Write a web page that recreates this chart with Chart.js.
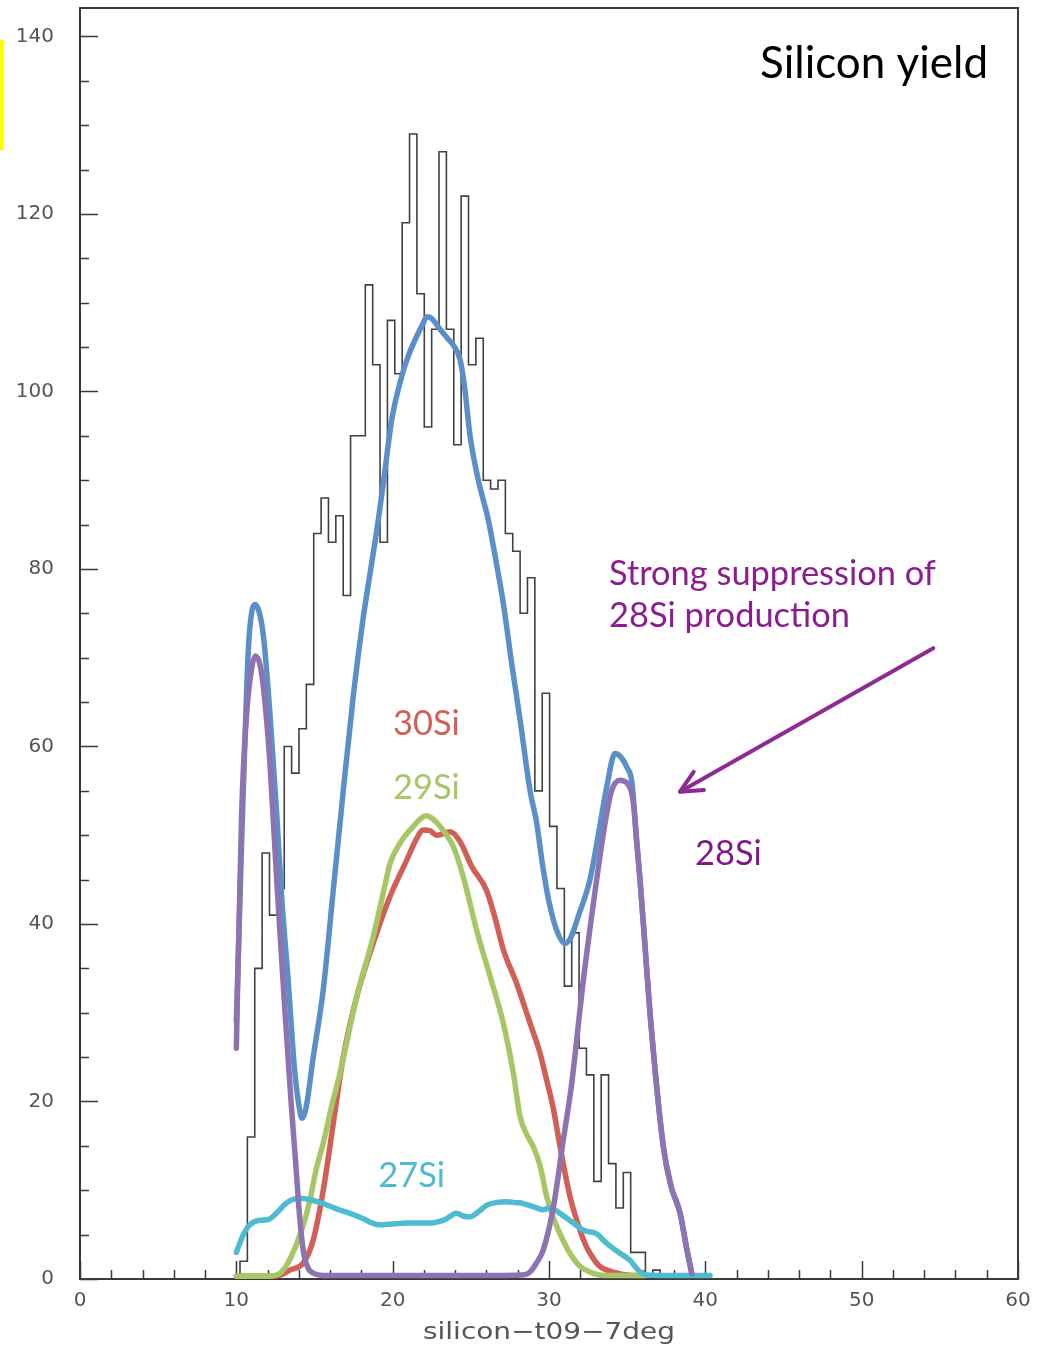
<!DOCTYPE html>
<html>
<head>
<meta charset="utf-8">
<script src="https://cdn.jsdelivr.net/npm/chart.js@4.4.1/dist/chart.umd.min.js"></script>
<style>
html,body{margin:0;padding:0;background:#ffffff;}
#wrap{width:1038px;height:1347px;position:relative;}
</style>
</head>
<body>
<div id="wrap"><canvas id="c" width="1038" height="1347"></canvas></div>
<script>
// ---------- data ----------
const xTicks = [0, 10, 20, 30, 40, 50, 60];
const yTicks = [0, 20, 40, 60, 80, 100, 120, 140];
const xAxisTitle = 'silicon\u2212t09\u22127deg';

// histogram (low edge of first bin, bin width, counts)
const histStart = 10.235;
const histWidth = 0.4715;
const histCounts = [2, 16, 35, 48, 41, 44, 60, 57, 62, 67, 84, 88, 83, 86, 77, 95, 95, 112, 103, 83,
  108, 102, 119, 129, 111, 96, 107, 127, 107, 94, 122, 103, 106, 90, 89, 90, 84, 82, 75, 79,
  55, 66, 51, 44, 33, 39, 26, 23, 11, 23, 13, 8, 12, 3, 3, 0, 1];

// total (blue)
const blueX = [10.0,10.3,10.5,10.77,11.0,11.2,11.45,11.73,12.15,12.58,12.9,13.3,13.73,14.0,14.2,14.45,14.92,15.56,16.2,16.84,17.5,18.1,18.6,19.08,19.5,19.94,20.58,21.0,21.43,21.9,22.2,22.5,23.03,23.5,23.88,24.31,24.6,24.95,25.48,26.12,26.6,27.08,27.6,28.15,28.79,29.2,29.6,30.0,30.49,31.02,31.4,31.9,32.62,33.2,33.7,34.22,34.6,35.0,35.3,35.6,35.82,36.1,36.46,37.31,37.8,38.38,38.8,39.13];
const blueY = [29,47,58,71,75.3,76,75.2,72.5,63.7,52.5,43,34,23.5,19.6,18.1,19.2,25,32.6,43.8,55,66,74.3,80,85.5,91,96.8,101.7,104,105.8,107.5,108.4,108.2,107,106,105.2,103.6,100.5,95,90,85.5,81,76.1,69.5,63,55,51.5,46.5,42.5,39.3,37.8,38.5,41,45,50.5,55.5,59.2,58.8,57.6,56,49.5,45,38.5,30,15,10.5,7.5,3.5,0.7];

// 28Si (purple)
const purpleX = [10.0,10.34,10.66,11.0,11.22,11.5,11.73,12.15,12.58,13.09,13.5,13.8,14.05,14.3,14.6,15.0,15.5,17,19,21,23,25,27,28.5,28.79,29.2,29.64,30.28,30.92,31.45,32.2,33.05,33.6,34.0,34.54,34.97,35.4,35.6,35.82,36.1,36.46,37.31,37.8,38.38,38.8,39.13];
const purpleY = [26,52.5,63.7,69,70.2,69.3,66.7,58.1,45,30.7,20,13,7,3,1.2,0.6,0.4,0.4,0.4,0.4,0.4,0.4,0.4,0.5,0.8,1.8,3.3,8.1,15.7,22,33.7,45,51.5,55,56.2,55.9,53.6,49.5,45,38.5,30,14.9,10.5,7.4,3.5,0.6];

// 30Si (red)
const redX = [10.0,11.0,12.0,12.9,13.43,14.28,14.92,15.56,16.2,16.84,17.7,18.98,19.83,20.9,21.5,21.96,22.4,22.81,23.3,23.67,24.31,25.05,26.0,26.5,27.08,27.93,28.79,29.42,29.85,30.3,30.7,31.34,31.8,32.3,32.62,33.2,33.7,34.5,35.3,36.0];
const redY = [0.3,0.3,0.3,0.5,1.0,1.8,4.4,10.0,17.5,25.0,31.8,39.0,43.1,47.2,49.5,50.6,50.5,50.0,50.2,50.4,49.3,46.5,43.8,41,37.1,33.3,28.8,25.5,22.4,19,15,9.3,6.5,4,2.9,1.5,1.0,0.6,0.4,0.4];

// 29Si (green)
const greenX = [10.0,11.0,12.0,12.5,12.9,13.45,14.18,14.71,15.1,15.56,16.1,16.63,17.7,18.76,19.4,19.83,20.47,21.32,22.13,22.6,23.03,23.88,24.52,25.37,26.23,27.08,27.72,28.15,28.6,29.0,29.42,29.85,30.3,30.7,31.34,32.0,32.6,33.5,36.2];
const greenY = [0.3,0.3,0.3,0.4,0.8,2.3,5.5,8.9,12.3,15.3,19.5,23.2,31.8,38.6,43.5,46.8,49.1,51.0,52.2,51.8,51.0,48.7,45.3,39.3,34.1,28.8,23.2,18.3,16.2,14.9,12.8,9.3,6.8,5.1,2.9,1.4,0.8,0.4,0.4];

// 27Si (cyan)
const cyanX = [10.0,10.4,10.75,11.1,11.39,12.03,12.67,13.1,13.52,14.1,14.8,15.56,16.4,17.27,18.12,18.7,19.19,20.0,20.9,21.7,22.39,23.0,23.45,24.1,24.5,24.95,25.5,26.0,26.6,27.29,27.9,28.36,29.21,29.6,30.06,30.7,31.56,32.2,33.05,33.7,34.54,35.18,35.82,36.25,37.5,39.0,40.3];
const cyanY = [3.0,4.8,5.9,6.4,6.6,6.7,7.6,8.4,8.9,9.1,8.9,8.5,7.9,7.4,6.8,6.3,6.1,6.2,6.3,6.3,6.3,6.5,6.8,7.4,7.1,7.0,7.6,8.3,8.6,8.7,8.6,8.5,8.0,7.8,8.0,7.4,6.3,5.5,5.1,4.0,2.9,2.1,0.8,0.45,0.4,0.4,0.4];

// ---------- build chart data ----------
function pairs(xs, ys) {
  const n = Math.min(xs.length, ys.length);
  const out = [];
  for (let i = 0; i < n; i++) out.push({x: xs[i], y: ys[i]});
  return out;
}
function histOutline(start, width, counts) {
  const pts = [{x: start, y: 0}];
  counts.forEach((c, i) => {
    pts.push({x: start + i * width, y: c});
    pts.push({x: start + (i + 1) * width, y: c});
  });
  pts.push({x: start + counts.length * width, y: 0});
  return pts;
}

const COLORS = {
  blue: '#5B8FC9', purple: '#8D73B2', red: '#D15F56', green: '#A7C665', cyan: '#4DBBD0',
  hist: '#404040', axis: '#3a3a3a', tickLabel: '#555555', note: '#8B1D91', arrow: '#8E2A94'
};

function curve(label, xs, ys, color, order) {
  return {
    label, data: pairs(xs, ys), borderColor: color, backgroundColor: color,
    borderWidth: 5.5, pointRadius: 0, fill: false, order,
    cubicInterpolationMode: 'monotone', borderCapStyle: 'round', borderJoinStyle: 'round'
  };
}

const datasets = [
  {label: 'silicon-t09-7deg', data: histOutline(histStart, histWidth, histCounts),
   borderColor: COLORS.hist, borderWidth: 1.6, pointRadius: 0, tension: 0, fill: false, order: 10},
  curve('total', blueX, blueY, COLORS.blue, 6),
  curve('30Si', redX, redY, COLORS.red, 5),
  curve('29Si', greenX, greenY, COLORS.green, 4),
  curve('27Si', cyanX, cyanY, COLORS.cyan, 3),
  curve('28Si', purpleX, purpleY, COLORS.purple, 2)
];

// annotation anchors in data coordinates (left edge / baseline)
const notes = [
  {text: 'Silicon yield', x: 43.50, y: 135.3, color: '#000000', group: 'title'},
  {text: 'Strong suppression of', x: 33.84, y: 78.2, color: COLORS.note, group: 'label'},
  {text: '28Si production', x: 33.84, y: 73.45, color: COLORS.note, group: 'label'},
  {text: '30Si', x: 20.02, y: 61.3, color: COLORS.red, group: 'label'},
  {text: '29Si', x: 20.02, y: 54.1, color: '#A6C766', group: 'label'},
  {text: '27Si', x: 19.08, y: 10.4, color: COLORS.cyan, group: 'label'},
  {text: '28Si', x: 39.34, y: 46.6, color: '#7F1A86', group: 'label'}
];
const arrowTail = {x: 54.58, y: 71.07};
const arrowTip = {x: 38.38, y: 54.91};

// ---------- plugin: frame, ticks, texts ----------
const decor = {
  id: 'decor',
  beforeDatasetsDraw(chart) {
    const {ctx, chartArea: a, scales: {x, y}} = chart;
    ctx.save();
    ctx.strokeStyle = COLORS.axis;
    ctx.lineWidth = 1.5;
    for (let v = 0; v <= 143; v += 5) {
      const py = Math.round(y.getPixelForValue(v)) + 0.5;
      const len = (v % 20 === 0) ? 18 : 9;
      ctx.beginPath(); ctx.moveTo(a.left, py); ctx.lineTo(a.left + len, py); ctx.stroke();
    }
    for (let v = 0; v <= 60; v += 2) {
      const px = Math.round(x.getPixelForValue(v)) + 0.5;
      const len = (v % 10 === 0) ? 18 : 9;
      ctx.beginPath(); ctx.moveTo(px, a.bottom); ctx.lineTo(px, a.bottom - len); ctx.stroke();
    }
    ctx.lineWidth = 2;
    ctx.strokeRect(a.left, a.top, a.right - a.left, a.bottom - a.top);
    ctx.restore();
  },
  afterDraw(chart) {
    const {ctx, chartArea: a, scales: {x, y}} = chart;
    ctx.save();
    ctx.fillStyle = '#FFFF00';
    ctx.fillRect(0, 40, 4, 110);

    // x axis title (horizontally stretched like the original rendering)
    ctx.save();
    ctx.font = '23px "DejaVu Sans"';
    ctx.fillStyle = COLORS.tickLabel;
    ctx.textBaseline = 'alphabetic';
    ctx.textAlign = 'center';
    const targetW = 252;
    const w0 = ctx.measureText(xAxisTitle).width;
    const sx = targetW / w0;
    const cx = (a.left + a.right) / 2;
    ctx.translate(cx, 1339);
    ctx.scale(sx, 1);
    ctx.fillText(xAxisTitle, 0, 0);
    ctx.restore();

    function fitSize(text, family, target) {
      ctx.font = '100px ' + family;
      return 100 * target / ctx.measureText(text).width;
    }
    const fam = 'Lato, "Open Sans", sans-serif';
    const sizes = {
      title: fitSize('Silicon yield', fam, 228),
      label: fitSize('Strong suppression of', fam, 327)
    };
    notes.forEach(n => {
      ctx.font = sizes[n.group].toFixed(2) + 'px ' + fam;
      ctx.fillStyle = n.color;
      ctx.textAlign = 'left';
      ctx.textBaseline = 'alphabetic';
      ctx.fillText(n.text, x.getPixelForValue(n.x), y.getPixelForValue(n.y));
    });

    // arrow
    const tx = x.getPixelForValue(arrowTail.x), ty = y.getPixelForValue(arrowTail.y);
    const hx = x.getPixelForValue(arrowTip.x), hy = y.getPixelForValue(arrowTip.y);
    ctx.strokeStyle = COLORS.arrow;
    ctx.lineWidth = 4;
    ctx.lineCap = 'round';
    ctx.lineJoin = 'round';
    ctx.beginPath(); ctx.moveTo(tx, ty); ctx.lineTo(hx, hy); ctx.stroke();
    const ang = Math.atan2(ty - hy, tx - hx);
    const L = 24, spread = 0.45;
    ctx.beginPath();
    ctx.moveTo(hx + L * Math.cos(ang + spread), hy + L * Math.sin(ang + spread));
    ctx.lineTo(hx, hy);
    ctx.lineTo(hx + L * Math.cos(ang - spread), hy + L * Math.sin(ang - spread));
    ctx.stroke();
    ctx.restore();
  }
};

new Chart(document.getElementById('c').getContext('2d'), {
  type: 'line',
  data: {datasets},
  options: {
    responsive: false,
    animation: false,
    devicePixelRatio: 1,
    layout: {padding: {top: 8, right: 20, left: 0, bottom: 0}},
    plugins: {legend: {display: false}, tooltip: {enabled: false}},
    elements: {point: {radius: 0}},
    scales: {
      x: {
        type: 'linear', min: 0, max: 60,
        grid: {display: false, drawTicks: false}, border: {display: false},
        afterBuildTicks: s => { s.ticks = xTicks.map(v => ({value: v})); },
        afterFit: s => { s.height = 68; s.paddingLeft = 0; s.paddingRight = 0; },
        ticks: {font: {family: 'DejaVu Sans', size: 20}, color: COLORS.tickLabel, padding: 10,
                maxRotation: 0, autoSkip: false, callback: v => String(v)}
      },
      y: {
        type: 'linear', min: 0, max: 143.2,
        grid: {display: false, drawTicks: false}, border: {display: false},
        afterBuildTicks: s => { s.ticks = yTicks.map(v => ({value: v})); },
        afterFit: s => { s.width = 80; s.paddingTop = 0; s.paddingBottom = 0; },
        ticks: {font: {family: 'DejaVu Sans', size: 20}, color: COLORS.tickLabel, padding: 26,
                autoSkip: false, callback: v => String(v)}
      }
    }
  },
  plugins: [decor]
});
</script>
</body>
</html>
